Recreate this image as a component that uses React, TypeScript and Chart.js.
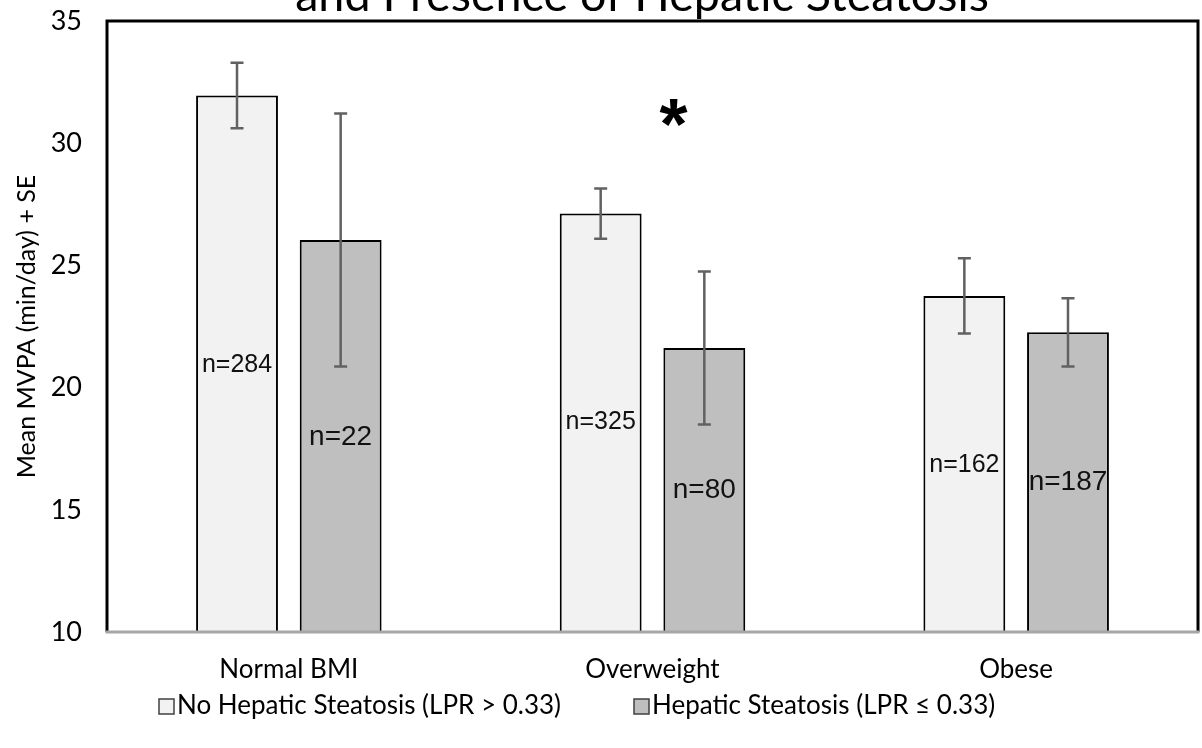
import React, { useEffect, useRef } from "react";
import { Chart, registerables } from "chart.js";

Chart.register(...registerables);

// ---------- data ----------
const categories = ["Normal BMI", "Overweight", "Obese"];
const seriesNames = ["No Hepatic Steatosis (LPR > 0.33)", "Hepatic Steatosis (LPR \u2264 0.33)"];
const noSteatosisMean = [31.95, 27.12, 23.75];
const noSteatosisSE = [1.34, 1.03, 1.54];
const steatosisMean = [26.04, 21.62, 22.26];
const steatosisSE = [5.18, 3.13, 1.4];
const noSteatosisN = ["n=284", "n=325", "n=162"];
const steatosisN = ["n=22", "n=80", "n=187"];
const noSteatosisLabelAt = [20.93, 18.59, 16.83];
const steatosisLabelAt = [17.98, 15.81, 16.14];
const yMin = 10;
const yMax = 35;
const yStep = 5;
const titleLine = "and Presence of Hepatic Steatosis";
const yAxisTitle = "Mean MVPA (min/day) + SE";
const significanceCategory = 1;
const significanceValue = 31.2;
const significanceMark = "*";

const seriesFill = ["#f2f2f2", "#bfbfbf"];
const UI_FONT = "Lato, 'Open Sans', sans-serif";
const LABEL_FONT = "'Liberation Sans', Arial, sans-serif";

const seriesMeans = [noSteatosisMean, steatosisMean];
const seriesSE = [noSteatosisSE, steatosisSE];
const seriesN = [noSteatosisN, steatosisN];
const seriesLabelAt = [noSteatosisLabelAt, steatosisLabelAt];
const labelSizes = [25, 28];

const decorPlugin = {
  id: "decor",
  afterDatasetsDraw(chart: any) {
    const ctx = chart.ctx;
    const y = chart.scales.y;
    const x = chart.scales.x;
    const area = chart.chartArea;
    ctx.save();
    // error bars
    seriesMeans.forEach((means, di) => {
      const meta = chart.getDatasetMeta(di);
      meta.data.forEach((bar: any, i: number) => {
        const top = y.getPixelForValue(means[i] + seriesSE[di][i]);
        const bot = y.getPixelForValue(means[i] - seriesSE[di][i]);
        ctx.strokeStyle = "#616161";
        ctx.lineWidth = 2.5;
        ctx.beginPath();
        ctx.moveTo(bar.x, top);
        ctx.lineTo(bar.x, bot);
        ctx.moveTo(bar.x - 6.5, top);
        ctx.lineTo(bar.x + 6.5, top);
        ctx.moveTo(bar.x - 6.5, bot);
        ctx.lineTo(bar.x + 6.5, bot);
        ctx.stroke();
      });
    });
    // n labels
    seriesN.forEach((labels, di) => {
      const meta = chart.getDatasetMeta(di);
      ctx.font = `${labelSizes[di]}px ${LABEL_FONT}`;
      ctx.fillStyle = "#111";
      ctx.textAlign = "center";
      ctx.textBaseline = "middle";
      meta.data.forEach((bar: any, i: number) => {
        ctx.fillText(labels[i], bar.x, y.getPixelForValue(seriesLabelAt[di][i]));
      });
    });
    // significance asterisk
    const catW = x.width / categories.length;
    ctx.font = `bold 72px ${LABEL_FONT}`;
    ctx.fillStyle = "#000";
    ctx.textAlign = "center";
    ctx.textBaseline = "alphabetic";
    ctx.fillText(
      significanceMark,
      x.getPixelForValue(significanceCategory) + catW * 0.058,
      y.getPixelForValue(significanceValue) + 35
    );
    // frame
    ctx.strokeStyle = "#000";
    ctx.lineWidth = 3;
    ctx.beginPath();
    ctx.moveTo(area.left, area.bottom);
    ctx.lineTo(area.left, area.top);
    ctx.lineTo(area.right, area.top);
    ctx.lineTo(area.right, area.bottom);
    ctx.stroke();
    ctx.strokeStyle = "#a6a6a6";
    ctx.lineWidth = 3;
    ctx.beginPath();
    ctx.moveTo(area.left - 1.5, area.bottom);
    ctx.lineTo(area.right + 1.5, area.bottom);
    ctx.stroke();
    ctx.restore();
  },
  afterDraw(chart: any) {
    const ctx = chart.ctx;
    ctx.save();
    // title (second line, first line is off-canvas)
    let size = 40;
    ctx.font = `${size}px ${UI_FONT}`;
    const w = ctx.measureText(titleLine).width;
    size = size * (694 / w);
    ctx.font = `${size}px ${UI_FONT}`;
    ctx.fillStyle = "#000";
    ctx.textAlign = "center";
    ctx.textBaseline = "alphabetic";
    ctx.fillText(titleLine, 642, 11);
    // legend
    ctx.font = `26px ${UI_FONT}`;
    ctx.textBaseline = "middle";
    ctx.textAlign = "left";
    const legendY = 706;
    const starts = [159, 634];
    seriesNames.forEach((name, i) => {
      const bx = starts[i];
      ctx.fillStyle = seriesFill[i];
      ctx.fillRect(bx, legendY - 7, 15, 15);
      ctx.strokeStyle = "#404040";
      ctx.lineWidth = 1.5;
      ctx.strokeRect(bx, legendY - 7, 15, 15);
      ctx.fillStyle = "#000";
      ctx.fillText(name, bx + 18, legendY);
    });
    ctx.restore();
  },
};

export default function App() {
  const ref = useRef<HTMLCanvasElement | null>(null);
  useEffect(() => {
    if (!ref.current) return;
    const chart = new Chart(ref.current, {
      type: "bar",
      data: {
        labels: categories,
        datasets: seriesNames.map((name, i) => ({
          label: name,
          data: seriesMeans[i],
          backgroundColor: seriesFill[i],
          borderColor: "#000",
          borderWidth: 2,
          categoryPercentage: 0.57,
          barPercentage: 0.79,
        })),
      },
      options: {
        responsive: false,
        animation: false,
        devicePixelRatio: 1,
        layout: { padding: { top: 21, right: 4, left: 0, bottom: 0 } },
        plugins: {
          legend: { display: false },
          tooltip: { enabled: false },
          title: { display: false },
        },
        scales: {
          x: {
            grid: { display: false, drawTicks: false },
            border: { display: false },
            ticks: { color: "#000", font: { family: UI_FONT, size: 26 }, padding: 22 },
            afterFit: (s: any) => {
              s.height = 116;
              s.paddingLeft = 0;
              s.paddingRight = 0;
            },
          },
          y: {
            min: yMin,
            max: yMax,
            grid: { display: false, drawTicks: false },
            border: { display: false },
            ticks: { stepSize: yStep, color: "#000", font: { family: UI_FONT, size: 27 }, padding: 25 },
            title: {
              display: true,
              text: yAxisTitle,
              color: "#000",
              font: { family: UI_FONT, size: 25 },
              padding: { top: 12, bottom: 0 },
            },
            afterFit: (s: any) => {
              s.width = 107;
              s.paddingTop = 0;
              s.paddingBottom = 0;
            },
          },
        },
      },
      plugins: [decorPlugin],
    });
    return () => chart.destroy();
  }, []);
  return (
    <div style={{ position: "absolute", left: 0, top: 0, width: 1202, height: 748, background: "#fff" }}>
      <canvas ref={ref} width={1202} height={748} style={{ display: "block" }} />
    </div>
  );
}
